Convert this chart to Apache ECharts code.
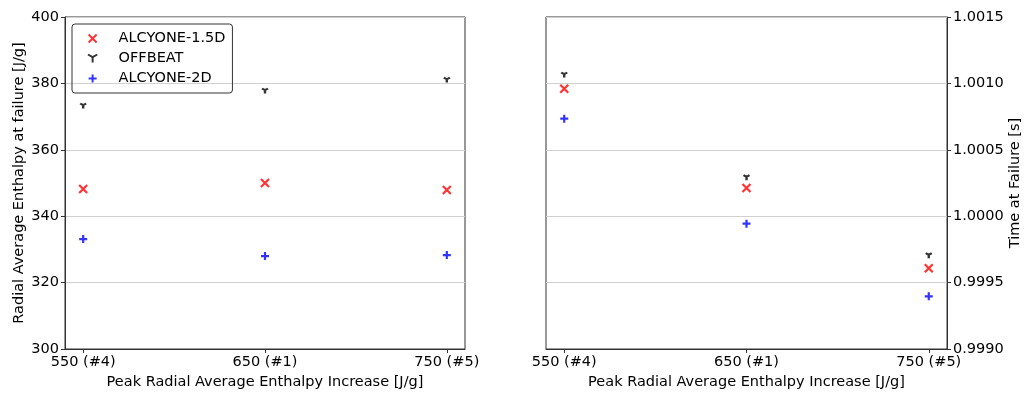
<!DOCTYPE html>
<html>
<head>
<meta charset="utf-8">
<script src="https://cdn.jsdelivr.net/npm/echarts@6/dist/echarts.min.js"></script>
<style>
  html, body { margin: 0; padding: 0; background: #fff; }
  #chart { width: 1027px; height: 395px; }
</style>
</head>
<body>
<div id="chart"></div>
<script>
// peak radial average enthalpy increase (x) and case labels
var enthalpyIncrease = [550, 650, 750];
var caseLabels = ['550 (#4)', '650 (#1)', '750 (#5)'];

// left: radial average enthalpy at failure [J/g]
var enthalpy15D = [348.2, 350.0, 347.9];
var enthalpyOffbeat = [373.2, 377.7, 381.0];
var enthalpy2D = [333.1, 328.0, 328.3];

// right: time at failure [s]
var time15D = [1.00096, 1.000212, 0.999608];
var timeOffbeat = [1.001063, 1.00029, 0.999703];
var time2D = [1.000734, 0.999944, 0.999397];

var leftTicks = [300, 320, 340, 360, 380, 400];
var rightTicks = [0.9990, 0.9995, 1.0000, 1.0005, 1.0010, 1.0015];

var FONT = 'DejaVu Sans';
var FS = 14.5;
var SYM_X = 'path://M0,0L10,10M10,0L0,10';
var SYM_TRI = 'path://M0,0L-8.66,-5M0,0L8.66,-5M0,0L0,10';
var SYM_PLUS = 'path://M5,0L5,10M0,5L10,5';

function pairs(xs, ys) {
    var out = [];
    for (var i = 0; i < xs.length; i++) {
        out.push([xs[i], ys[i]]);
    }
    return out;
}

function labelFor(v) {
    var i = enthalpyIncrease.indexOf(v);
    return i >= 0 ? caseLabels[i] : '';
}

function xAxisFor(gridIndex) {
    return {
        type: 'value',
        gridIndex: gridIndex,
        min: 540,
        max: 760,
        name: 'Peak Radial Average Enthalpy Increase [J/g]',
        nameLocation: 'middle',
        nameGap: 25,
        nameTextStyle: {fontFamily: FONT, fontSize: FS, color: '#000'},
        splitLine: {show: false},
        axisLine: {show: true, lineStyle: {color: '#333'}},
        axisTick: {show: true, length: 4, lineStyle: {color: '#333'}, customValues: enthalpyIncrease},
        axisLabel: {
            fontFamily: FONT, fontSize: FS, color: '#000', margin: 6,
            customValues: enthalpyIncrease,
            formatter: function (v) { return labelFor(v); }
        }
    };
}

var series = [];
var names = ['ALCYONE-1.5D', 'OFFBEAT', 'ALCYONE-2D'];
var symbols = [SYM_X, SYM_TRI, SYM_PLUS];
var colors = ['#ff0000', '#000000', '#0000ff'];
var sizes = [[8, 8], [6, 5], [8, 8]];
var leftData = [enthalpy15D, enthalpyOffbeat, enthalpy2D];
var rightData = [time15D, timeOffbeat, time2D];

for (var s = 0; s < names.length; s++) {
    var style = {color: colors[s], borderColor: colors[s], borderWidth: 2.2};
    series.push({
        name: names[s], type: 'scatter', xAxisIndex: 0, yAxisIndex: 0,
        symbol: symbols[s], symbolSize: sizes[s], itemStyle: style,
        data: pairs(enthalpyIncrease, leftData[s])
    });
    series.push({
        name: names[s], type: 'scatter', xAxisIndex: 1, yAxisIndex: 1,
        symbol: symbols[s], symbolSize: sizes[s], itemStyle: style,
        data: pairs(enthalpyIncrease, rightData[s])
    });
}

var myChart = echarts.init(document.getElementById('chart'), null, {renderer: 'canvas'});
var option = {
    animation: false,
    backgroundColor: '#fff',
    grid: [
        {left: 65, right: 562, top: 17, bottom: 46, show: true, borderColor: '#333', borderWidth: 1},
        {left: 546, right: 80, top: 17, bottom: 46, show: true, borderColor: '#333', borderWidth: 1}
    ],
    legend: {
        left: 72, top: 24,
        orient: 'vertical',
        data: names,
        padding: [7, 7, 7, 15],
        itemWidth: 14, itemHeight: 8, itemGap: 5,
        borderColor: '#333', borderWidth: 1, borderRadius: 3,
        formatter: function (name) { return '{s|}{t|' + name + '}'; },
        textStyle: {
            fontFamily: FONT, fontSize: FS, color: '#000',
            rich: {
                s: {width: 14},
                t: {fontFamily: FONT, fontSize: FS, color: '#000'}
            }
        }
    },
    xAxis: [xAxisFor(0), xAxisFor(1)],
    yAxis: [
        {
            type: 'value', gridIndex: 0, min: 300, max: 400, interval: 20,
            name: 'Radial Average Enthalpy at failure [J/g]',
            nameLocation: 'middle', nameGap: 38, nameRotate: 90,
            nameTextStyle: {fontFamily: FONT, fontSize: FS, color: '#000'},
            axisLine: {show: true, lineStyle: {color: '#333'}},
            axisTick: {show: true, length: 4, lineStyle: {color: '#333'}},
            axisLabel: {fontFamily: FONT, fontSize: FS, color: '#000', margin: 6},
            splitLine: {show: true, lineStyle: {color: '#d0d0d0', width: 1}}
        },
        {
            type: 'value', gridIndex: 1, position: 'right',
            min: rightTicks[0], max: rightTicks[rightTicks.length - 1], interval: 0.0005,
            name: 'Time at Failure [s]',
            nameLocation: 'middle', nameGap: 61, nameRotate: 90,
            nameTextStyle: {fontFamily: FONT, fontSize: FS, color: '#000'},
            axisLine: {show: true, lineStyle: {color: '#333'}},
            axisTick: {show: true, length: 4, lineStyle: {color: '#333'}},
            axisLabel: {
                fontFamily: FONT, fontSize: FS, color: '#000', margin: 6,
                formatter: function (v) { return v.toFixed(4); }
            },
            splitLine: {show: true, lineStyle: {color: '#d0d0d0', width: 1}}
        }
    ],
    series: series
};

myChart.setOption(option);
</script>
</body>
</html>
